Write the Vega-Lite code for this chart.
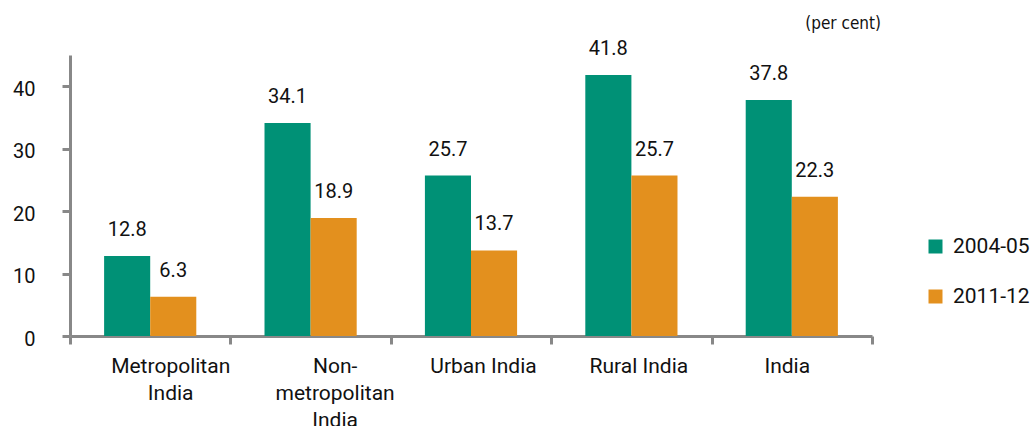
{
  "$schema": "https://vega.github.io/schema/vega-lite/v6.json",
  "autosize": "none",
  "width": 802,
  "height": 281,
  "padding": {"left": 70, "top": 55, "right": 160, "bottom": 90},
  "background": "white",
  "title": {
    "text": "(per cent)",
    "anchor": "end",
    "frame": "group",
    "font": "DejaVu Sans Condensed",
    "fontSize": 17,
    "fontWeight": "normal",
    "color": "#111111",
    "dx": 9,
    "offset": 6
  },
  "config": {
    "view": {"stroke": null},
    "font": "Roboto",
    "axis": {
      "domainColor": "#888888",
      "domainWidth": 3,
      "tickColor": "#888888",
      "tickWidth": 3,
      "tickSize": 8,
      "grid": false,
      "labelColor": "#111111",
      "labelFont": "Roboto",
      "labelFontSize": 21,
      "title": null
    }
  },
  "data": {
    "values": [
      {"region": "Metropolitan India", "period": "2004-05", "ratio": 12.8},
      {"region": "Metropolitan India", "period": "2011-12", "ratio": 6.3},
      {"region": "Non-metropolitan India", "period": "2004-05", "ratio": 34.1},
      {"region": "Non-metropolitan India", "period": "2011-12", "ratio": 18.9},
      {"region": "Urban India", "period": "2004-05", "ratio": 25.7},
      {"region": "Urban India", "period": "2011-12", "ratio": 13.7},
      {"region": "Rural India", "period": "2004-05", "ratio": 41.8},
      {"region": "Rural India", "period": "2011-12", "ratio": 25.7},
      {"region": "India", "period": "2004-05", "ratio": 37.8},
      {"region": "India", "period": "2011-12", "ratio": 22.3}
    ]
  },
  "encoding": {
    "x": {
      "field": "region",
      "type": "nominal",
      "sort": null,
      "scale": {"paddingInner": 0, "paddingOuter": 0},
      "axis": {
        "labelAngle": 0,
        "tickBand": "extent",
        "labelPadding": 11,
        "labelLineHeight": 27,
        "labelBaseline": "top",
        "labelOffset": {
          "condition": [
            {"test": "datum.value == 'Metropolitan India'", "value": 20},
            {"test": "datum.value == 'Non-metropolitan India'", "value": 24},
            {"test": "datum.value == 'Urban India'", "value": 12},
            {"test": "datum.value == 'Rural India'", "value": 7}
          ],
          "value": -5
        },
        "labelExpr": "datum.value == 'Metropolitan India' ? ['Metropolitan', 'India'] : datum.value == 'Non-metropolitan India' ? ['Non-', 'metropolitan', 'India'] : datum.value"
      }
    },
    "xOffset": {
      "field": "period",
      "type": "nominal",
      "scale": {"paddingInner": 0, "paddingOuter": 0.74}
    },
    "y": {
      "field": "ratio",
      "type": "quantitative",
      "scale": {"domain": [0, 45], "nice": false},
      "axis": {"values": [0, 10, 20, 30, 40], "labelPadding": 27, "labelOffset": 3, "labelFontSize": 20}
    }
  },
  "layer": [
    {
      "mark": {"type": "bar"},
      "encoding": {
        "color": {
          "field": "period",
          "type": "nominal",
          "scale": {"domain": ["2004-05", "2011-12"], "range": ["#009176", "#E3901E"]},
          "legend": {
            "title": null,
            "orient": "none",
            "legendX": 855,
            "legendY": 181,
            "symbolType": "square",
            "symbolSize": 196,
            "symbolStrokeWidth": 0,
            "labelFont": "Roboto",
            "labelFontSize": 21,
            "labelColor": "#111111",
            "labelOffset": 7,
            "rowPadding": 28,
            "padding": 0
          }
        }
      }
    },
    {
      "mark": {"type": "text", "baseline": "middle", "dy": -26, "fontSize": 20, "font": "Roboto", "color": "#111111"},
      "encoding": {
        "text": {"field": "ratio", "type": "quantitative", "format": ".1f"}
      }
    }
  ]
}
